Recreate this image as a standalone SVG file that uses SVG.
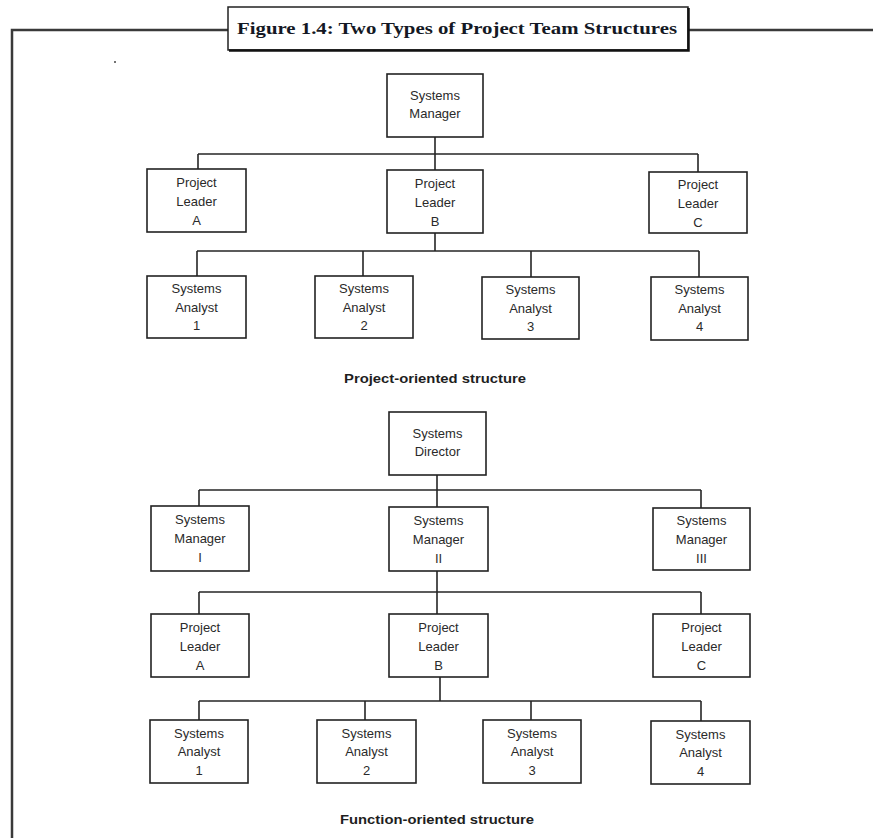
<svg xmlns="http://www.w3.org/2000/svg" width="873" height="838" viewBox="0 0 873 838">
<style>
.frame{fill:none;stroke:#3a3a3a;stroke-width:2.5}
.box{fill:#fff;stroke:#222;stroke-width:1.6}
.lbl{font-family:"Liberation Sans",Arial,sans-serif;font-size:13px;fill:#2a2a2a;text-anchor:middle}
.cap{font-family:"Liberation Sans",Arial,sans-serif;font-size:12.5px;font-weight:bold;fill:#1e1e1e;text-anchor:middle}
.title{font-family:"Liberation Serif","Times New Roman",serif;font-size:17.5px;font-weight:bold;fill:#141824;text-anchor:middle}
#connectors line{stroke:#252525;stroke-width:1.6}
</style>
<rect width="873" height="838" fill="#fff"/>
<g id="frame">
<polyline class="frame" points="12,838 12,30 228,30"/>
<line class="frame" x1="688" y1="30" x2="873" y2="30" stroke="#555"/>
<rect x="228" y="7" width="460" height="43" fill="#fff" stroke="#222" stroke-width="1.5"/>
<polyline points="229,50.5 688.5,50.5 688.5,8" fill="none" stroke="#111" stroke-width="2.5"/>
<text class="title" x="457" y="34" textLength="440" lengthAdjust="spacingAndGlyphs">Figure 1.4: Two Types of Project Team Structures</text>
<circle cx="115" cy="62" r="1" fill="#444"/>
</g>
<g id="connectors">
<line x1="435" y1="137" x2="435" y2="154"/>
<line x1="198" y1="154" x2="698" y2="154"/>
<line x1="198" y1="154" x2="198" y2="169"/>
<line x1="435" y1="154" x2="435" y2="170"/>
<line x1="698" y1="154" x2="698" y2="172"/>
<line x1="435" y1="233" x2="435" y2="251"/>
<line x1="197" y1="251" x2="699" y2="251"/>
<line x1="197" y1="251" x2="197" y2="276"/>
<line x1="363" y1="251" x2="363" y2="276"/>
<line x1="531" y1="251" x2="531" y2="277"/>
<line x1="699" y1="251" x2="699" y2="277"/>
<line x1="437" y1="475" x2="437" y2="490"/>
<line x1="199" y1="490" x2="701" y2="490"/>
<line x1="199" y1="490" x2="199" y2="506"/>
<line x1="437" y1="490" x2="437" y2="507"/>
<line x1="701" y1="490" x2="701" y2="508"/>
<line x1="437" y1="571" x2="437" y2="592"/>
<line x1="199" y1="592" x2="701" y2="592"/>
<line x1="199" y1="592" x2="199" y2="614"/>
<line x1="437" y1="592" x2="437" y2="614"/>
<line x1="701" y1="592" x2="701" y2="614"/>
<line x1="440" y1="677" x2="440" y2="701"/>
<line x1="199" y1="701" x2="701" y2="701"/>
<line x1="199" y1="701" x2="199" y2="720"/>
<line x1="365" y1="701" x2="365" y2="720"/>
<line x1="531" y1="701" x2="531" y2="720"/>
<line x1="701" y1="701" x2="701" y2="721"/>
</g>
<g id="p-systems-manager"><rect class="box" x="387" y="74" width="96" height="63"/><text class="lbl" x="435" y="100">Systems</text><text class="lbl" x="435" y="118">Manager</text></g>
<g id="p-leader-a"><rect class="box" x="147" y="169" width="99" height="63"/><text class="lbl" x="196.5" y="186.5">Project</text><text class="lbl" x="196.5" y="205.5">Leader</text><text class="lbl" x="196.5" y="224.5">A</text></g>
<g id="p-leader-b"><rect class="box" x="387" y="170" width="96" height="63"/><text class="lbl" x="435" y="187.5">Project</text><text class="lbl" x="435" y="206.5">Leader</text><text class="lbl" x="435" y="225.5">B</text></g>
<g id="p-leader-c"><rect class="box" x="649" y="172" width="98" height="61"/><text class="lbl" x="698" y="188.5">Project</text><text class="lbl" x="698" y="207.5">Leader</text><text class="lbl" x="698" y="226.5">C</text></g>
<g id="p-analyst-1"><rect class="box" x="147" y="276" width="99" height="62"/><text class="lbl" x="196.5" y="293">Systems</text><text class="lbl" x="196.5" y="311.5">Analyst</text><text class="lbl" x="196.5" y="330">1</text></g>
<g id="p-analyst-2"><rect class="box" x="315" y="276" width="98" height="62"/><text class="lbl" x="364" y="293">Systems</text><text class="lbl" x="364" y="311.5">Analyst</text><text class="lbl" x="364" y="330">2</text></g>
<g id="p-analyst-3"><rect class="box" x="482" y="277" width="97" height="62"/><text class="lbl" x="530.5" y="294">Systems</text><text class="lbl" x="530.5" y="312.5">Analyst</text><text class="lbl" x="530.5" y="331">3</text></g>
<g id="p-analyst-4"><rect class="box" x="651" y="277" width="97" height="63"/><text class="lbl" x="699.5" y="294">Systems</text><text class="lbl" x="699.5" y="312.5">Analyst</text><text class="lbl" x="699.5" y="331">4</text></g>
<text class="cap" x="435" y="383" textLength="182" lengthAdjust="spacingAndGlyphs">Project-oriented structure</text>
<g id="f-systems-director"><rect class="box" x="389" y="412" width="97" height="63"/><text class="lbl" x="437.5" y="438">Systems</text><text class="lbl" x="437.5" y="456">Director</text></g>
<g id="f-manager-1"><rect class="box" x="151" y="506" width="98" height="65"/><text class="lbl" x="200" y="524">Systems</text><text class="lbl" x="200" y="543">Manager</text><text class="lbl" x="200" y="562">I</text></g>
<g id="f-manager-2"><rect class="box" x="389" y="507" width="99" height="64"/><text class="lbl" x="438.5" y="524.5">Systems</text><text class="lbl" x="438.5" y="543.5">Manager</text><text class="lbl" x="438.5" y="562.5">II</text></g>
<g id="f-manager-3"><rect class="box" x="653" y="508" width="97" height="62"/><text class="lbl" x="701.5" y="525">Systems</text><text class="lbl" x="701.5" y="544">Manager</text><text class="lbl" x="701.5" y="563">III</text></g>
<g id="f-leader-a"><rect class="box" x="151" y="614" width="98" height="63"/><text class="lbl" x="200" y="631.5">Project</text><text class="lbl" x="200" y="650.5">Leader</text><text class="lbl" x="200" y="669.5">A</text></g>
<g id="f-leader-b"><rect class="box" x="389" y="614" width="99" height="63"/><text class="lbl" x="438.5" y="631.5">Project</text><text class="lbl" x="438.5" y="650.5">Leader</text><text class="lbl" x="438.5" y="669.5">B</text></g>
<g id="f-leader-c"><rect class="box" x="653" y="614" width="97" height="63"/><text class="lbl" x="701.5" y="631.5">Project</text><text class="lbl" x="701.5" y="650.5">Leader</text><text class="lbl" x="701.5" y="669.5">C</text></g>
<g id="f-analyst-1"><rect class="box" x="150" y="720" width="98" height="63"/><text class="lbl" x="199" y="737.5">Systems</text><text class="lbl" x="199" y="756">Analyst</text><text class="lbl" x="199" y="774.5">1</text></g>
<g id="f-analyst-2"><rect class="box" x="317" y="720" width="99" height="63"/><text class="lbl" x="366.5" y="737.5">Systems</text><text class="lbl" x="366.5" y="756">Analyst</text><text class="lbl" x="366.5" y="774.5">2</text></g>
<g id="f-analyst-3"><rect class="box" x="483" y="720" width="98" height="63"/><text class="lbl" x="532" y="737.5">Systems</text><text class="lbl" x="532" y="756">Analyst</text><text class="lbl" x="532" y="774.5">3</text></g>
<g id="f-analyst-4"><rect class="box" x="651" y="721" width="99" height="63"/><text class="lbl" x="700.5" y="738.5">Systems</text><text class="lbl" x="700.5" y="757">Analyst</text><text class="lbl" x="700.5" y="775.5">4</text></g>
<text class="cap" x="437" y="824" textLength="194" lengthAdjust="spacingAndGlyphs">Function-oriented structure</text>
</svg>
